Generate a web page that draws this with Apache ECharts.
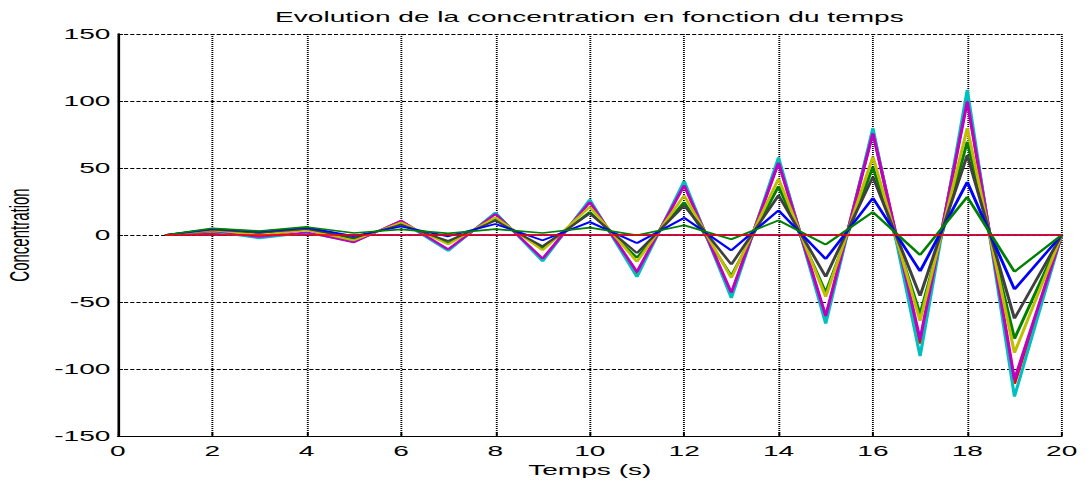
<!DOCTYPE html>
<html>
<head>
<meta charset="utf-8">
<script src="https://cdn.jsdelivr.net/npm/echarts@6/dist/echarts.min.js"></script>
<style>
html, body { margin: 0; padding: 0; background: #fff; width: 1089px; height: 482px; overflow: hidden; }
#wrap { width: 1089px; height: 482px; overflow: hidden; position: relative; }
#chart { position: absolute; left: 0; top: 0; width: 582px; height: 482px; transform: scaleX(1.8711); transform-origin: 0 0; }
</style>
</head>
<body>
<div id="wrap"><div id="chart"></div></div>
<script>
// Time axis (s)
const time = [1, 2, 3, 4, 5, 6, 7, 8, 9, 10, 11, 12, 13, 14, 15, 16, 17, 18, 19, 20];
const xTicks = [0, 2, 4, 6, 8, 10, 12, 14, 16, 18, 20];
const yTicks = [-150, -100, -50, 0, 50, 100, 150];

// Concentration curves (one per node), in plotting order
const c1  = [0, 0, 0, 0, 0, 0, 0, 0, 0, 0, 0, 0, 0, 0, 0, 0, 0, 0, 0, 0];
const c2  = [0, 4.5, 1.5, 5, -3, 8.5, -6, 12, -10, 17.2, -17, 24.5, -30.6, 36.4, -42.9, 50.9, -59.1, 69.6, -77.4, 0];
const c3  = [0, 1.5, -1, 4, -5.2, 10.5, -11.3, 16.3, -18.5, 25.5, -29, 38.5, -44.5, 55.5, -62.5, 77.5, -81, 102, -111, 0];
const c4  = [0, 2.5, -2.5, 1.5, -5, 10.2, -11.9, 16.9, -19.7, 26.4, -31.3, 40.3, -47, 57.9, -66.1, 79.7, -90.4, 108.4, -120.6, 0];
const c5  = [0, 3, -1.5, 2, -5.5, 10.7, -10.7, 15.7, -17.6, 24.6, -27.5, 37, -43, 53.9, -60.4, 75.9, -77.9, 99.6, -107.9, 0];
const c6  = [0, 3.5, 0, 3.5, -4, 9.4, -7, 13.2, -11.4, 21, -20, 29.5, -32, 42.1, -46.1, 58.4, -64.1, 79.7, -87.9, 0];
const c7  = [0, 4, 1.5, 4.5, -2, 7.7, -4.5, 10.7, -8.5, 16, -13.5, 22, -22, 29.6, -31.1, 43.4, -45.4, 59.6, -62.4, 0];
const c8  = [0, 4.5, 2.5, 5.5, -0.8, 6.4, -1, 8.2, -4, 9.7, -6, 12.8, -11.5, 18.4, -17.9, 27.6, -27.1, 39.6, -40.6, 0];
const c9  = [0, 5, 3, 6, 1.5, 4.2, 1.2, 4.4, 1.5, 5.5, -0.2, 7.3, -3.2, 10.9, -7.1, 17.1, -14.9, 28.4, -27.4, 0];
const c10 = [0, 0, 0, 0, 0, 0, 0, 0, 0, 0, 0, 0, 0, 0, 0, 0, 0, 0, 0, 0];

const curves = [c1, c2, c3, c4, c5, c6, c7, c8, c9, c10];
const curveNames = ['C1', 'C2', 'C3', 'C4', 'C5', 'C6', 'C7', 'C8', 'C9', 'C10'];
const curveColors = ['#0000ff', '#008000', '#ff0000', '#00bfbf', '#bf00bf', '#bfbf00', '#404040', '#0000ff', '#008000', '#ff0000'];

const FONT = "'Liberation Sans', Arial, Helvetica, sans-serif";

const chart = echarts.init(document.getElementById('chart'), null, { renderer: 'svg' });

const series = curves.map((vals, i) => ({
  name: curveNames[i],
  type: 'line',
  data: vals.map((v, k) => [time[k], v]),
  showSymbol: false,
  symbol: 'none',
  lineStyle: { color: curveColors[i], width: 1.7 },
  itemStyle: { color: curveColors[i] },
  animation: false
}));

chart.setOption({
  animation: false,
  backgroundColor: '#ffffff',
  title: {
    text: 'Evolution de la concentration en fonction du temps',
    left: 315,
    textAlign: 'center',
    top: 9,
    padding: 0,
    textStyle: { fontFamily: FONT, fontSize: 15, fontWeight: 'normal', color: '#000' }
  },
  grid: { left: 63, right: 14.6, top: 34, bottom: 46, containLabel: false, outerBoundsMode: 'none' },
  xAxis: {
    type: 'value',
    min: xTicks[0],
    max: xTicks[xTicks.length - 1],
    interval: xTicks[1] - xTicks[0],
    name: 'Temps (s)',
    nameLocation: 'middle',
    nameGap: 23,
    nameTextStyle: { fontFamily: FONT, fontSize: 15, color: '#000' },
    axisLine: { show: true, onZero: false, lineStyle: { color: '#000', width: 1.2 } },
    axisTick: { show: true, inside: true, length: 4, lineStyle: { color: '#000', width: 1 } },
    axisLabel: { fontFamily: FONT, fontSize: 15, color: '#000', margin: 7 },
    splitLine: { show: true, lineStyle: { color: '#000', width: 1, type: [1, 1] } }
  },
  yAxis: {
    type: 'value',
    min: yTicks[0],
    max: yTicks[yTicks.length - 1],
    interval: yTicks[1] - yTicks[0],
    name: 'Concentration',
    nameLocation: 'middle',
    nameGap: 42,
    nameRotate: 90,
    nameTextStyle: { fontFamily: FONT, fontSize: 15, color: '#000' },
    axisLine: { show: true, onZero: false, lineStyle: { color: '#000', width: 1.4 } },
    axisTick: { show: true, inside: true, length: 2.7, lineStyle: { color: '#000', width: 1 } },
    axisLabel: { fontFamily: FONT, fontSize: 15, color: '#000', margin: 4 },
    splitLine: { show: true, lineStyle: { color: '#000', width: 1, type: [2.2, 1.1] } }
  },
  series: series
});
</script>
</body>
</html>
